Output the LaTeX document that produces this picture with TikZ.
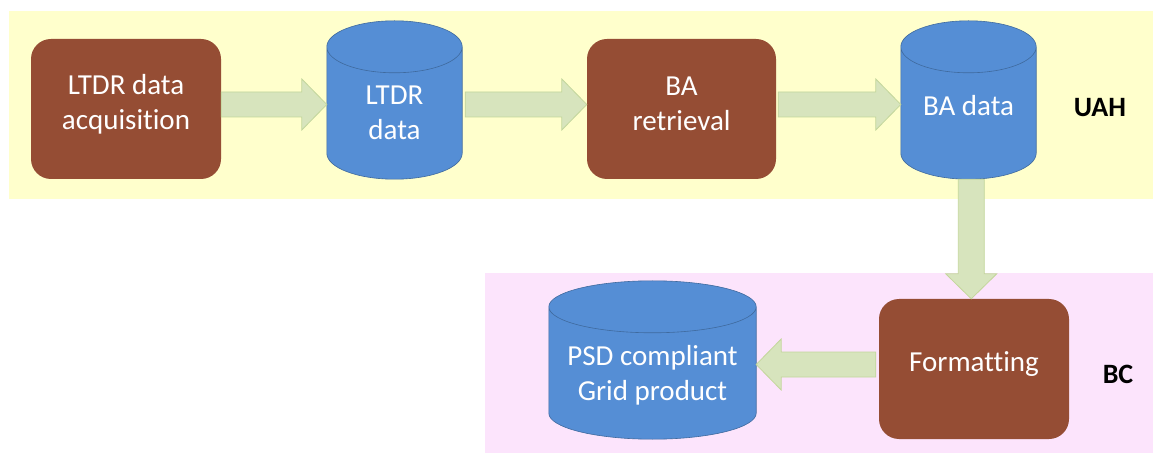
\documentclass[tikz,border=0pt]{standalone}
\usepackage{tikz}
\usepackage{fontspec}
\setmainfont{Carlito}[Ligatures=NoCommon]
\usepackage{color}
\usetikzlibrary{calc}
\definecolor{uahband}{HTML}{FFFFCC}
\definecolor{bcband}{HTML}{FCE4FC}
\definecolor{taskbrown}{HTML}{954D34}
\definecolor{drumblue}{HTML}{558ED5}
\definecolor{drumedge}{HTML}{3F6A9E}
\definecolor{flowfill}{HTML}{D7E4BD}
\definecolor{flowedge}{HTML}{C3D69B}
\tikzset{
  task/.style={rectangle, rounded corners=20pt, fill=taskbrown, minimum width=190pt, minimum height=140pt},
  drum/.style={rectangle, minimum height=158pt},
  drumline/.style={draw=drumedge, fill=drumblue, line width=0.6pt},
  boxtext/.style={text=white, align=center, font=\fontsize{29}{35}\selectfont},
  flow/.style={fill=flowfill, draw=flowedge, line width=0.8pt},
  site/.style={font=\fontsize{28}{30}\selectfont\bfseries}
}
\newcommand{\drumshape}[1]{\draw[drumline] let \p1=(#1.west), \p2=(#1.east), \p3=($(\p2)-(\p1)$) in
  ([yshift=-26pt]#1.north west) -- ([yshift=26pt]#1.south west)
  arc[start angle=180, end angle=360, x radius={0.5*\x3}, y radius=26pt]
  -- ([yshift=-26pt]#1.north east)
  arc[start angle=0, end angle=180, x radius={0.5*\x3}, y radius=26pt] -- cycle
  ([yshift=-26pt]#1.north west) arc[start angle=180, end angle=360, x radius={0.5*\x3}, y radius=26pt];}
\newcommand{\harrow}[2]{\draw[flow] let \p1=#1, \p2=#2, \p3=($(\p1)!0.5!(\p2)$), \n2={sign(\x2-\x1)} in
  (\x1,\y3-12.5pt) -- (\x2-\n2*25pt,\y3-12.5pt) -- (\x2-\n2*25pt,\y3-25.5pt) -- (\x2,\y3)
  -- (\x2-\n2*25pt,\y3+25.5pt) -- (\x2-\n2*25pt,\y3+12.5pt) -- (\x1,\y3+12.5pt) -- cycle;}
\newcommand{\varrow}[2]{\draw[flow] let \p1=#1, \p2=#2, \p3=($(\p1)!0.5!(\p2)$), \n2={sign(\y2-\y1)} in
  (\x3-13pt,\y1) -- (\x3-13pt,\y2-\n2*25pt) -- (\x3-25.5pt,\y2-\n2*25pt) -- (\x3,\y2)
  -- (\x3+25.5pt,\y2-\n2*25pt) -- (\x3+13pt,\y2-\n2*25pt) -- (\x3+13pt,\y1) -- cycle;}
\begin{document}
\begin{tikzpicture}[x=1pt, y=-1pt]
  \useasboundingbox (0,0) rectangle (1154,454);

  \fill[uahband] (9,11) rectangle (1153,199);
  \fill[bcband] (485,273) rectangle (1153,453);

  \node[task] (acq) at (126,109) {};
  \node[drum, minimum width=135pt] (ltdr) at (394.5,100) {};
  \node[task, minimum width=189pt] (bar) at (681.5,109) {};
  \node[drum, minimum width=135pt] (badata) at (968.5,100) {};
  \node[task] (fmt) at (974,369) {};
  \node[drum, minimum width=207pt] (psd) at (652.5,360) {};

  \drumshape{ltdr}
  \drumshape{badata}
  \drumshape{psd}

  \node[boxtext] (acq-text) at ([yshift=5pt]acq.center) {LTDR data\\acquisition};
  \node[boxtext] (ltdr-text) at ([yshift=-12.5pt]ltdr.center) {LTDR\\data};
  \node[boxtext] (bar-text) at ([yshift=5.5pt]bar.center) {BA\\retrieval};
  \node[boxtext] (badata-text) at ([yshift=-6pt]badata.center) {BA data};
  \node[boxtext] (fmt-text) at ([yshift=5pt]fmt.center) {Formatting};
  \node[boxtext] (psd-text) at ([yshift=-15pt]psd.center) {PSD compliant\\Grid product};

  \node[site] (uah) at (1100,108) {UAH};
  \node[site] (bc) at (1118,374) {BC};

  \harrow{(acq.east)}{(ltdr.west)}
  \harrow{([xshift=3pt]ltdr.east)}{(bar.west)}
  \harrow{([xshift=2pt]bar.east)}{(badata.west)}
  \varrow{(badata.south)}{(fmt.north)}
  \harrow{([xshift=-3pt]fmt.west)}{(psd.east)}
\end{tikzpicture}
\end{document}
